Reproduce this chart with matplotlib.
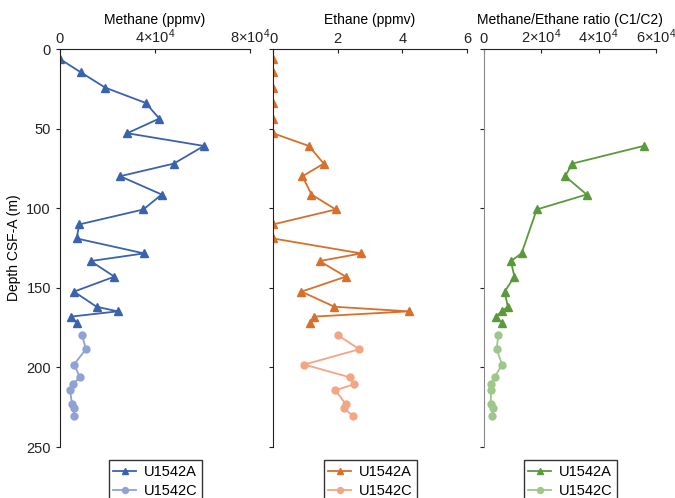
import matplotlib
matplotlib.use("Agg")
import matplotlib.pyplot as plt
from matplotlib.ticker import FuncFormatter

plt.rcParams['font.family'] = ['Liberation Sans', 'DejaVu Sans']
plt.rcParams['mathtext.default'] = 'regular'

# ---- data ----
depth_a = [6.3, 14.7, 24.3, 33.9, 43.7, 52.9, 60.9, 72.0, 79.9, 91.4, 100.8,
           110.2, 119.0, 128.4, 133.2, 143.0, 152.4, 161.9, 164.8, 168.1, 171.9]
methane_a = [0, 8800, 19100, 36100, 41800, 28300, 60600, 47900, 25300, 42800, 35100,
             8100, 7000, 35400, 12900, 22900, 5900, 15400, 24300, 4600, 7000]
ethane_a = [0, 0, 0, 0, 0, 0, 1.11, 1.57, 0.91, 1.19, 1.94,
            0, 0, 2.73, 1.44, 2.25, 0.88, 1.90, 4.20, 1.27, 1.15]

depth_c = [179.7, 188.6, 198.2, 206.2, 210.6, 214.4, 223.3, 225.7, 230.7]
methane_c = [9300, 10900, 5900, 8400, 5300, 4200, 5100, 6000, 5900]
ethane_c = [2.00, 2.67, 0.97, 2.37, 2.50, 1.93, 2.26, 2.20, 2.48]

ratio_depth_a = [60.9, 72.0, 79.9, 91.4, 100.8, 128.4, 133.2, 143.0, 152.4,
                 161.9, 164.8, 168.1, 171.9]
ratio_a = [55700, 30800, 28300, 35800, 18400, 13100, 9400, 10600, 7200,
           8300, 6200, 4100, 6200]
ratio_c = [5000, 4400, 6300, 3700, 2300, 2400, 2400, 3000, 2700]

# ---- figure ----
fig = plt.figure(figsize=(6.75, 4.98), dpi=100)
W, H = 675, 498


def make_ax(x0, x1):
    top, bottom = 49, 447
    return fig.add_axes([x0 / W, 1 - bottom / H, (x1 - x0) / W, (bottom - top) / H])


def sci(v, pos):
    if v == 0:
        return '0'
    return '%d×10$^{4}$' % round(v / 1e4)


panels = [
    (make_ax(60, 250), 'Methane (ppmv)', (0, 8e4), [0, 4e4, 8e4], True,
     methane_a, depth_a, methane_c, depth_c, '#3a62ae', '#8ea2d6'),
    (make_ax(273, 467), 'Ethane (ppmv)', (0, 6), [0, 2, 4, 6], False,
     ethane_a, depth_a, ethane_c, depth_c, '#d8702b', '#f2a684'),
    (make_ax(484, 656), 'Methane/Ethane ratio (C1/C2)', (0, 6e4), [0, 2e4, 4e4, 6e4], True,
     ratio_a, ratio_depth_a, ratio_c, depth_c, '#5b9a3b', '#9dc78b'),
]

for i, (ax, label, xlim, xticks, use_sci, xa, ya, xc, yc, ca, cc) in enumerate(panels):
    ax.plot(xa, ya, '-^', color=ca, lw=1.3, ms=5.5, label='U1542A')
    ax.plot(xc, yc, '-o', color=cc, lw=1.3, ms=5, label='U1542C')
    ax.set_xlim(*xlim)
    ax.set_ylim(250, 0)
    ax.set_xticks(xticks)
    if use_sci:
        ax.xaxis.set_major_formatter(FuncFormatter(sci))
    ax.xaxis.tick_top()
    ax.xaxis.set_label_position('top')
    ax.set_xlabel(label, fontsize=10, va='center')
    ax.xaxis.set_label_coords(0.5, 1.073)
    ax.tick_params(axis='x', direction='in', length=3, labelsize=10.5, pad=2, colors='#222222')
    ax.set_yticks([0, 50, 100, 150, 200, 250])
    ax.tick_params(axis='y', direction='out', length=3, labelsize=10.5, colors='#222222')
    for s in ['right', 'bottom']:
        ax.spines[s].set_visible(False)
    ax.spines['top'].set_color('#222222')
    ax.spines['left'].set_color('#222222' if i < 2 else '#888888')
    if i == 0:
        ax.set_ylabel('Depth CSF-A (m)', fontsize=10)
    else:
        ax.set_yticklabels([])
    leg = ax.legend(loc='upper center', bbox_to_anchor=(0.5, -0.015), fontsize=10.5,
                    frameon=True, fancybox=False, edgecolor='black', borderpad=0.3,
                    handlelength=1.6, handletextpad=0.5, labelspacing=0.35,
                    markerscale=0.85)
    leg.get_frame().set_linewidth(1.0)

fig.savefig('out.png', dpi=100)
